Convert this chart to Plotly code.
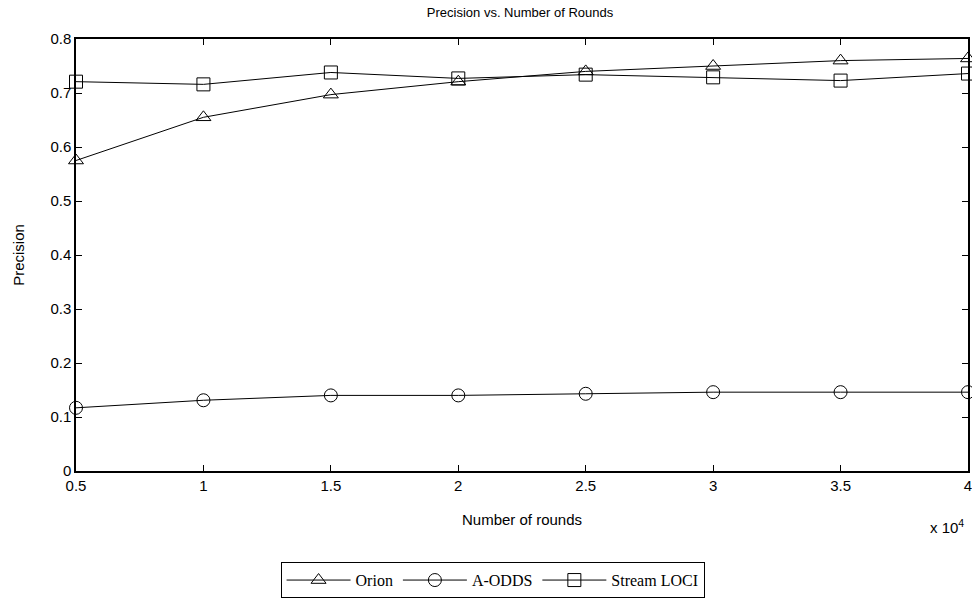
import plotly.graph_objects as go

rounds = [5000, 10000, 15000, 20000, 25000, 30000, 35000, 40000]
orion = [0.575, 0.655, 0.697, 0.721, 0.740, 0.750, 0.760, 0.764]
a_odds = [0.117, 0.131, 0.140, 0.140, 0.143, 0.146, 0.146, 0.146]
stream_loci = [0.721, 0.716, 0.738, 0.727, 0.734, 0.729, 0.723, 0.736]

x_tickvals = [5000, 10000, 15000, 20000, 25000, 30000, 35000, 40000]
x_ticktext = ["0.5", "1", "1.5", "2", "2.5", "3", "3.5", "4"]
y_tickvals = [0, 0.1, 0.2, 0.3, 0.4, 0.5, 0.6, 0.7, 0.8]
y_ticktext = ["0", "0.1", "0.2", "0.3", "0.4", "0.5", "0.6", "0.7", "0.8"]

series = [
    ("Orion", orion, "triangle-up-open"),
    ("A-ODDS", a_odds, "circle-open"),
    ("Stream LOCI", stream_loci, "square-open"),
]

fig = go.Figure()
for name, vals, sym in series:
    fig.add_trace(go.Scatter(
        x=rounds, y=vals, name=name, mode="lines+markers",
        line=dict(color="black", width=1),
        marker=dict(symbol=sym, size=13, color="black", line=dict(width=1, color="black")),
        cliponaxis=False,
    ))

axis_common = dict(
    showline=True, linecolor="black", linewidth=1.5, mirror="allticks",
    ticks="inside", ticklen=6, tickwidth=1, tickcolor="black",
    showgrid=False, zeroline=False, automargin=False,
    ticklabeloverflow="allow",
    tickfont=dict(family="Liberation Sans, Arial", size=15, color="black"),
)

fig.update_layout(
    width=972, height=602,
    margin=dict(l=76, r=4, t=39, b=127),
    paper_bgcolor="white", plot_bgcolor="white",
    title=dict(text="Precision vs. Number of Rounds", x=0.535, xanchor="center",
               xref="container", yref="container",
               y=0.98, yanchor="middle", automargin=False,
               font=dict(family="Liberation Sans, Arial", size=13, color="black")),
    xaxis=dict(range=[5000, 40000], tickvals=x_tickvals, ticktext=x_ticktext,
               title=dict(text="Number of rounds", standoff=22,
                          font=dict(family="Liberation Sans, Arial", size=15, color="black")),
               **axis_common),
    yaxis=dict(range=[0, 0.8], tickvals=y_tickvals, ticktext=y_ticktext,
               title=dict(text="Precision", standoff=22,
                          font=dict(family="Liberation Sans, Arial", size=15, color="black")),
               **axis_common),
    legend=dict(orientation="h", x=0.467, xanchor="center", y=-0.211, yanchor="top",
                bordercolor="black", borderwidth=1, bgcolor="white",
                font=dict(family="Liberation Serif, Times New Roman", size=16, color="black"),
                itemwidth=64, tracegroupgap=0),
    annotations=[dict(text="x 10<sup>4</sup>", xref="paper", yref="paper",
                      x=0.998, y=-0.128, xanchor="right", yanchor="middle", showarrow=False,
                      font=dict(family="Liberation Sans, Arial", size=15, color="black"))],
    showlegend=True,
)

fig.write_html("out.html", config={"displayModeBar": False},
               post_script="document.body.style.margin='0';document.body.style.overflow='hidden';")
